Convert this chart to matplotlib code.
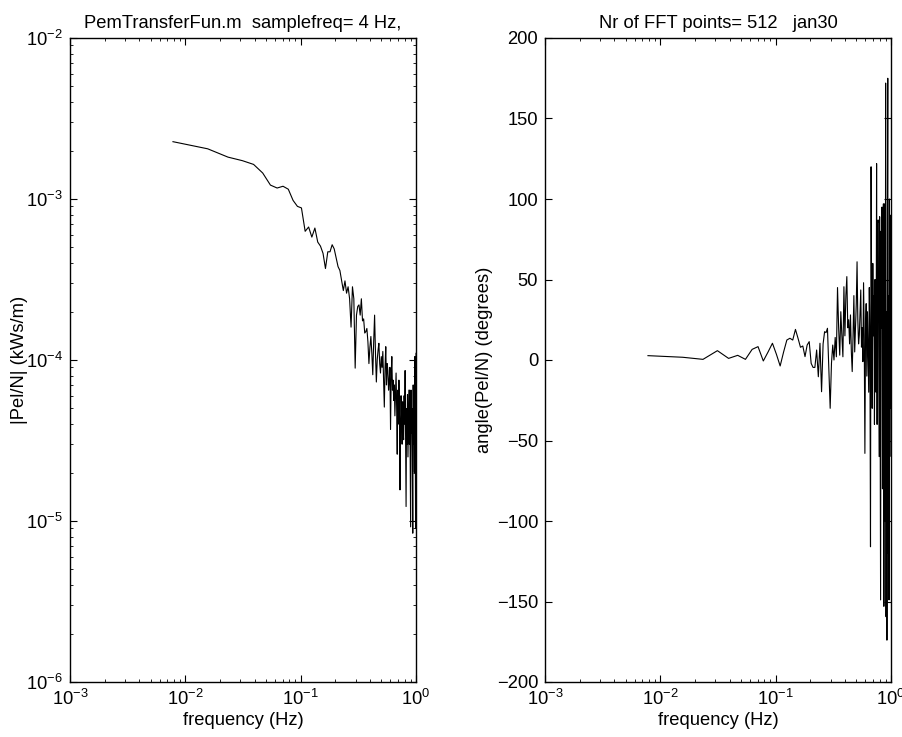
import matplotlib
matplotlib.use("Agg")
import matplotlib.pyplot as plt
import numpy as np
from matplotlib.ticker import LogLocator, MultipleLocator

plt.rcParams["font.family"] = ["Liberation Sans", "DejaVu Sans"]
plt.rcParams["mathtext.fontset"] = "custom"
plt.rcParams["mathtext.rm"] = "Liberation Sans"
plt.rcParams["mathtext.it"] = "Liberation Sans"
FS = 13.2
plt.rcParams["font.size"] = FS

# ── Data ──────────────────────────────────────────────────────────────────────
SAMPLE_FREQ = 4.0     # Hz
NFFT = 512
# FFT bins 1..128 (up to 1 Hz)
freq = np.arange(1, 129) * SAMPLE_FREQ / NFFT

magnitude = [
    2.27e-3, 2.05e-3, 1.82e-3, 1.73e-3, 1.64e-3, 1.45e-3, 1.22e-3, 1.17e-3, 1.20e-3, 1.15e-3,
    9.8e-4, 9.0e-4, 8.8e-4, 6.3e-4, 6.7e-4, 5.8e-4, 6.6e-4, 5.4e-4, 5.1e-4, 4.6e-4,
    3.7e-4, 4.7e-4, 4.7e-4, 5.2e-4, 4.9e-4, 4.3e-4, 3.8e-4, 3.6e-4, 3.1e-4, 2.7e-4,
    3.1e-4, 2.6e-4, 2.85e-4, 2.4e-4, 1.6e-4, 2.85e-4, 2.4e-4, 8.9e-5, 1.9e-4, 2.15e-4,
    2.2e-4, 1.9e-4, 2.4e-4, 1.75e-4, 1.8e-4, 1.47e-4, 1.5e-4, 1.57e-4, 1.3e-4, 9.5e-5,
    1.2e-4, 1.4e-4, 1.1e-4, 8.1e-5, 1.3e-4, 1.9e-4, 1.1e-4, 7.3e-5, 1.0e-4, 1.15e-4,
    1.27e-4, 9.5e-5, 8.3e-5, 1.05e-4, 9.0e-5, 1.13e-4, 7.5e-5, 5.1e-5, 9.0e-5, 1.21e-4,
    7.0e-5, 9.5e-5, 8.6e-5, 6.5e-5, 7.5e-5, 9.0e-5, 3.7e-5, 8.0e-5, 1.05e-4, 6.5e-5,
    7.5e-5, 5.6e-5, 7.0e-5, 4.5e-5, 6.0e-5, 8.3e-5, 5.0e-5, 2.6e-5, 6.5e-5, 4.0e-5,
    7.5e-5, 5.0e-5, 1.56e-5, 4.0e-5, 6.0e-5, 4.5e-5, 3.0e-5, 5.5e-5, 3.5e-5, 3.2e-5,
    6.0e-5, 4.0e-5, 8.6e-5, 3.0e-5, 1.23e-5, 5.0e-5, 3.0e-5, 6.1e-5, 2.5e-5, 4.2e-5,
    6.5e-5, 3.0e-5, 6.5e-5, 2.2e-5, 9.2e-6, 6.5e-5, 3.5e-5, 5.0e-5, 2.5e-5, 8.4e-6,
    7.0e-5, 3.0e-5, 5.5e-5, 2.0e-5, 1.05e-4, 4.0e-5, 9.0e-6, 1.1e-4,
]

phase_deg = [
    2.7, 1.7, 0.4, 5.8, 1.0, 2.9, 0.4, 6.6, 8.3, -0.6,
    5.0, 10.4, 3.5, -3.7, 5.0, 12.4, 13.5, 12.4, 19.0, 13.5,
    7.9, 8.7, 2.1, 9.3, 11.4, -2.1, -4.6, -4.6, 6.2, -10.4,
    10.4, -19.7, 10.0, 17.6, 17.0, 19.7, -5.0, -30.0, -2.0, 9.3,
    0.0, 14.0, 2.0, 45.0, 20.0, 3.0, 30.0, 15.0, 2.0, 45.5,
    15.0, 40.0, 51.8, 20.0, 25.0, 10.0, 28.0, 5.0, -7.2, 15.0,
    40.0, 5.0, 20.0, 35.0, 61.0, 25.0, 10.0, 15.5, 30.0, 43.5,
    8.0, 20.0, -1.0, 48.0, 15.0, -58.0, 20.0, 35.0, -10.0, 30.0,
    5.0, -20.0, 45.0, 10.0, -116.0, 120.0, 30.0, -30.0, 60.0, 15.0,
    40.0, -40.0, 50.0, 20.0, -20.0, 122.0, -40.0, 85.0, 87.0, 10.0,
    -60.0, 89.0, -30.0, -149.0, 80.0, 20.0, 95.0, -80.0, 60.0, 97.0,
    -153.0, 40.0, 97.0, -100.0, 172.0, -159.5, 30.0, -174.0, 80.0, 175.0,
    -120.0, 40.0, -149.0, 100.0, -60.0, 90.0, -30.0, 50.0,
]

# ── Figure ────────────────────────────────────────────────────────────────────
fig = plt.figure(figsize=(9.02, 7.37), dpi=100)
ax1 = fig.add_axes([70 / 902, 55 / 737, 346 / 902, 644 / 737])
ax2 = fig.add_axes([545 / 902, 55 / 737, 346 / 902, 644 / 737])


def matlab_style(ax):
    for sp in ax.spines.values():
        sp.set_linewidth(1.0)
    ax.tick_params(which="both", direction="in", top=True, right=True,
                   labelsize=FS, pad=5)
    ax.tick_params(which="major", length=5, width=0.8)
    ax.tick_params(which="minor", length=2.5, width=0.6)


# ── Left: magnitude ───────────────────────────────────────────────────────────
ax1.loglog(freq, magnitude, color="black", lw=0.8)
ax1.set_xlim(1e-3, 1)
ax1.set_ylim(1e-6, 1e-2)
ax1.xaxis.set_major_locator(LogLocator(base=10, numticks=10))
ax1.yaxis.set_major_locator(LogLocator(base=10, numticks=10))
ax1.xaxis.set_minor_locator(LogLocator(base=10, subs=np.arange(2, 10), numticks=20))
ax1.yaxis.set_minor_locator(LogLocator(base=10, subs=np.arange(2, 10), numticks=20))
ax1.set_title("PemTransferFun.m  samplefreq= 4 Hz,", fontsize=FS, pad=7)
ax1.set_xlabel("frequency (Hz)", fontsize=FS, labelpad=2)
ax1.set_ylabel("|Pel/N| (kWs/m)", fontsize=FS)
ax1.yaxis.set_label_coords(-0.12, 0.5)
matlab_style(ax1)

# ── Right: phase ──────────────────────────────────────────────────────────────
ax2.semilogx(freq, phase_deg, color="black", lw=0.8)
ax2.set_xlim(1e-3, 1)
ax2.set_ylim(-200, 200)
ax2.yaxis.set_major_locator(MultipleLocator(50))
ax2.xaxis.set_major_locator(LogLocator(base=10, numticks=10))
ax2.xaxis.set_minor_locator(LogLocator(base=10, subs=np.arange(2, 10), numticks=20))
ax2.set_title("Nr of FFT points= 512   jan30", fontsize=FS, pad=7)
ax2.set_xlabel("frequency (Hz)", fontsize=FS, labelpad=2)
ax2.set_ylabel("angle(Pel/N) (degrees)", fontsize=FS)
ax2.yaxis.set_label_coords(-0.15, 0.5)
matlab_style(ax2)

fig.savefig("out.png", dpi=100)
plt.close(fig)
